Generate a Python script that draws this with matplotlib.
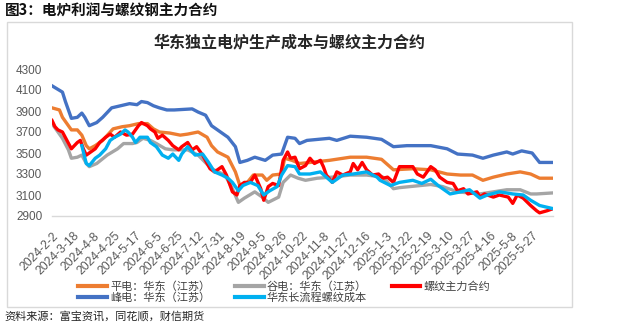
import matplotlib
matplotlib.use("Agg")
import matplotlib.pyplot as plt
from matplotlib.patches import Rectangle

plt.rcParams['font.family'] = ['Noto Sans CJK SC', 'DejaVu Sans']

# ---------------- data (trading-day index, value) ----------------
tick_labels = ["2024-2-2", "2024-3-18", "2024-4-8", "2024-4-25", "2024-5-17", "2024-6-5",
               "2024-6-25", "2024-7-12", "2024-7-31", "2024-8-19", "2024-9-5", "2024-9-26",
               "2024-10-22", "2024-11-8", "2024-11-27", "2024-12-16", "2025-1-3", "2025-1-22",
               "2025-2-19", "2025-3-10", "2025-3-27", "2025-4-16", "2025-5-8", "2025-5-27"]
n_days = 337
label_step = 14

peak_idx = [0, 7, 9, 13, 17, 20, 22, 25, 30, 34, 40, 46, 52, 57, 60, 64, 68, 72, 77, 82, 94, 98,
            103, 107, 111, 118, 123, 126, 131, 136, 143, 148, 154, 158, 163, 166, 171, 186, 191,
            200, 211, 221, 229, 238, 254, 265, 272, 282, 289, 296, 305, 309, 315, 322, 327, 336]
peak_val = [4140, 4080, 3990, 3830, 3840, 3880, 3840, 3760, 3790, 3840, 3930, 3950, 3970, 3960,
            3990, 3980, 3950, 3930, 3910, 3910, 3920, 3890, 3860, 3760, 3720, 3650, 3560, 3410,
            3430, 3460, 3430, 3480, 3490, 3650, 3640, 3590, 3620, 3640, 3620, 3660, 3650, 3630,
            3560, 3570, 3570, 3540, 3490, 3480, 3450, 3480, 3510, 3490, 3520, 3500, 3410, 3410]

flat_idx = [0, 5, 7, 11, 13, 17, 20, 23, 25, 29, 34, 41, 47, 52, 58, 64, 68, 72, 79, 86, 91, 98,
            104, 107, 111, 118, 123, 126, 131, 135, 141, 144, 148, 154, 156, 161, 166, 173, 186,
            200, 211, 221, 229, 242, 254, 265, 274, 282, 289, 296, 305, 314, 321, 327, 336]
flat_val = [3930, 3910, 3840, 3760, 3720, 3720, 3670, 3570, 3540, 3570, 3620, 3730, 3750, 3760,
            3780, 3780, 3730, 3700, 3690, 3670, 3680, 3700, 3650, 3570, 3510, 3460, 3320, 3190,
            3220, 3290, 3290, 3240, 3290, 3300, 3450, 3430, 3400, 3410, 3430, 3460, 3460, 3440,
            3340, 3350, 3340, 3300, 3290, 3290, 3240, 3270, 3300, 3320, 3300, 3260, 3260]

valley_idx = [0, 7, 11, 13, 17, 20, 23, 25, 30, 37, 44, 48, 54, 57, 61, 66, 70, 76, 81, 86, 91,
              98, 107, 116, 121, 125, 129, 136, 141, 145, 152, 155, 160, 165, 170, 178, 188, 200,
              211, 222, 229, 233, 254, 262, 272, 287, 296, 305, 314, 321, 325, 336]
valley_val = [3780, 3640, 3530, 3450, 3460, 3480, 3400, 3370, 3400, 3480, 3540, 3590, 3590, 3600,
              3640, 3620, 3590, 3540, 3530, 3530, 3530, 3480, 3350, 3290, 3160, 3030, 3070, 3130,
              3080, 3030, 3080, 3220, 3290, 3260, 3240, 3260, 3270, 3290, 3290, 3270, 3160, 3170,
              3200, 3180, 3130, 3110, 3130, 3150, 3150, 3110, 3110, 3120]

rebar_idx = [0, 2, 4, 7, 10, 13, 17, 19, 21, 23, 25, 29, 32, 36, 39, 42, 46, 50, 54, 58, 60, 64,
             66, 69, 71, 74, 78, 81, 85, 87, 91, 94, 97, 101, 106, 109, 114, 117, 121, 124, 126,
             129, 133, 136, 140, 142, 145, 148, 152, 155, 158, 160, 163, 166, 170, 173, 176, 180,
             182, 184, 188, 191, 195, 200, 202, 205, 208, 211, 215, 219, 222, 225, 229, 233, 238,
             242, 245, 249, 254, 257, 260, 265, 269, 272, 276, 279, 285, 287, 290, 296, 300, 306,
             309, 312, 316, 321, 325, 327, 332, 336]
rebar_val = [3810, 3750, 3720, 3700, 3620, 3540, 3600, 3620, 3540, 3480, 3500, 3540, 3600, 3650,
             3680, 3650, 3700, 3670, 3680, 3760, 3790, 3760, 3730, 3700, 3640, 3670, 3620, 3570,
             3530, 3560, 3600, 3530, 3560, 3480, 3350, 3320, 3370, 3290, 3130, 3100, 3190, 3220,
             3220, 3290, 3160, 3050, 3180, 3210, 3190, 3430, 3510, 3450, 3460, 3350, 3380, 3450,
             3400, 3430, 3370, 3290, 3220, 3320, 3290, 3320, 3400, 3340, 3410, 3340, 3290, 3300,
             3260, 3270, 3220, 3370, 3370, 3370, 3300, 3270, 3370, 3340, 3270, 3220, 3210, 3140,
             3160, 3110, 3130, 3080, 3110, 3080, 3100, 3080, 3020, 3100, 3070, 3000, 2950, 2930,
             2950, 2970]

long_idx = [20, 23, 25, 29, 32, 36, 39, 42, 46, 49, 51, 54, 56, 59, 64, 66, 70, 74, 78, 81, 85,
            87, 91, 96, 101, 105, 109, 114, 118, 121, 125, 128, 133, 138, 142, 146, 151, 154, 158,
            163, 166, 173, 180, 184, 188, 195, 202, 211, 218, 220, 227, 233, 242, 248, 254, 259,
            267, 274, 280, 287, 292, 300, 309, 316, 321, 327, 336]
long_val = [3570, 3400, 3380, 3450, 3480, 3540, 3620, 3650, 3680, 3720, 3700, 3650, 3600, 3650,
            3650, 3600, 3560, 3480, 3450, 3490, 3430, 3490, 3560, 3480, 3490, 3410, 3320, 3290,
            3260, 3220, 3140, 3190, 3220, 3190, 3100, 3140, 3180, 3290, 3380, 3370, 3300, 3300,
            3320, 3270, 3220, 3290, 3300, 3320, 3270, 3240, 3190, 3220, 3240, 3210, 3250, 3190,
            3110, 3130, 3150, 3070, 3100, 3130, 3110, 3100, 3050, 3000, 2970]

names = {
    "flat": "平电：华东（江苏）",
    "valley": "谷电：华东（江苏）",
    "rebar": "螺纹主力合约",
    "peak": "峰电：华东（江苏）",
    "long": "华东长流程螺纹成本",
}
colors = {
    "flat": "#ED7D31",
    "valley": "#A5A5A5",
    "rebar": "#FF0000",
    "peak": "#4472C4",
    "long": "#00B0F0",
}

# ---------------- figure ----------------
W, H = 628, 324
fig = plt.figure(figsize=(W / 100, H / 100), dpi=100)
fig.patch.set_facecolor("white")

# outer frame
fig.add_artist(Rectangle((7 / W, 1 - 307 / H), 565 / W, 285 / H, transform=fig.transFigure,
                         fill=False, edgecolor="#d9d9d9", linewidth=1.0))

fig.text(5 / W, 1 - 11 / H, "图3：电炉利润与螺纹钢主力合约", fontsize=10.5, fontweight="bold",
         color="#111111", ha="left", va="center")
fig.text(290 / W, 1 - 42 / H, "华东独立电炉生产成本与螺纹主力合约", fontsize=11.5,
         fontweight="bold", color="#262626", ha="center", va="center")
fig.text(4 / W, 1 - 316 / H, "资料来源：富宝资讯，同花顺，财信期货", fontsize=8,
         color="#262626", ha="left", va="center", style="italic")

ax = fig.add_axes([52 / W, 1 - 216 / H, 501 / W, 147 / H])
lw = 2.4
h_flat, = ax.plot(flat_idx, flat_val, color=colors["flat"], lw=lw, label=names["flat"])
h_valley, = ax.plot(valley_idx, valley_val, color=colors["valley"], lw=lw, label=names["valley"])
h_peak, = ax.plot(peak_idx, peak_val, color=colors["peak"], lw=lw, label=names["peak"])
h_rebar, = ax.plot(rebar_idx, rebar_val, color=colors["rebar"], lw=lw, label=names["rebar"])
h_long, = ax.plot(long_idx, long_val, color=colors["long"], lw=lw, label=names["long"])
for h in (h_flat, h_valley, h_peak, h_rebar, h_long):
    h.set_solid_joinstyle("round")

ax.set_xlim(0, n_days - 1)
ax.set_ylim(2900, 4300)
ax.set_yticks(range(2900, 4301, 200))
ax.set_xticks(range(0, label_step * len(tick_labels), label_step))
ax.set_xticklabels(tick_labels, rotation=45, ha="right", va="top", rotation_mode="anchor",
                   fontsize=8.7, color="#595959", family=["Liberation Sans", "DejaVu Sans"])
for t in ax.get_yticklabels():
    t.set_fontsize(8.5)
    t.set_color("#595959")
    t.set_family(["Liberation Sans", "DejaVu Sans"])
ax.tick_params(axis="both", length=0)
ax.tick_params(axis="x", pad=10)
ax.tick_params(axis="y", pad=7)
for s in ("top", "right", "left"):
    ax.spines[s].set_visible(False)
ax.spines["bottom"].set_color("#d9d9d9")
ax.spines["bottom"].set_linewidth(1.0)
ax.set_facecolor("none")

leg = fig.legend(handles=[h_flat, h_peak, h_valley, h_long, h_rebar], ncol=3,
                 loc="upper left", bbox_to_anchor=(78 / W, 1 - 281 / H), frameon=False,
                 fontsize=8, handlelength=2.6, handletextpad=0.3, columnspacing=2.2,
                 labelspacing=0.1, borderpad=0, borderaxespad=0)
for t in leg.get_texts():
    t.set_color("#404040")
for l in leg.get_lines():
    l.set_linewidth(3)

fig.savefig("out.png", dpi=100, facecolor="white")
